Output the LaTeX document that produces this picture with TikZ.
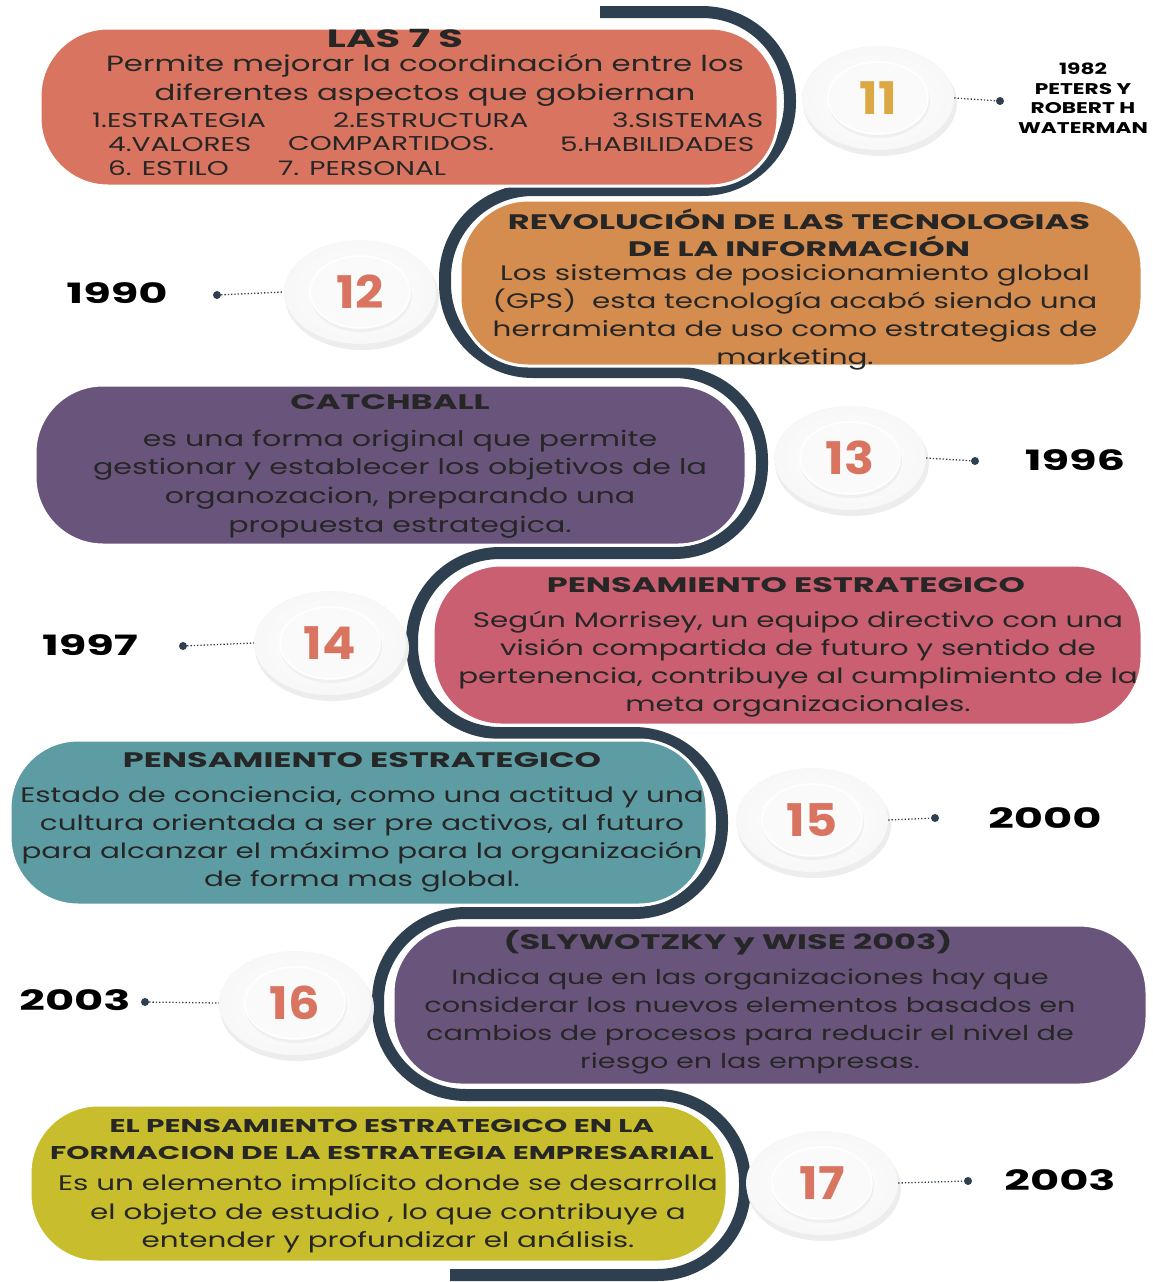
\documentclass[tikz,border=0pt]{standalone}
\usepackage{fontspec}
\setmainfont{Poppins}
\newfontfamily\ancha{Poppins}[FakeStretch=1.4]
\newfontfamily\muyancha{Poppins}[FakeStretch=1.6]
\newfontfamily\cifra{Poppins}[FakeStretch=1.1]
\usetikzlibrary{positioning}

\definecolor{linea}{HTML}{2E4050}
\definecolor{salmon}{HTML}{D87460}
\definecolor{naranja}{HTML}{D58C4F}
\definecolor{morado}{HTML}{69557B}
\definecolor{rosa}{HTML}{C95F70}
\definecolor{turquesa}{HTML}{5E9CA3}
\definecolor{oliva}{HTML}{C8BD2C}
\definecolor{oro}{HTML}{DCA843}
\definecolor{texto}{HTML}{262626}

\begin{document}
\begin{tikzpicture}[x=1pt,y=-1pt,
    caja/.style={draw=white, line width=3pt, rounded corners=68pt},
    titulo/.style={font=\muyancha\bfseries\fontsize{21}{28}\selectfont, text=texto, inner sep=0pt, align=center},
    cuerpo/.style={font=\ancha\fontsize{21}{28}\selectfont, text=texto, inner sep=0pt, align=center},
    lista/.style={font=\ancha\fontsize{20}{24}\selectfont, text=texto, inner sep=0pt, anchor=west},
    numero/.style={font=\cifra\bfseries\fontsize{45}{45}\selectfont, text=salmon, inner sep=0pt},
    anio/.style={font=\muyancha\bfseries\fontsize{28}{32}\selectfont, text=black, inner sep=0pt},
    punto/.style={circle, fill=linea, inner sep=0pt, minimum size=8pt},
    enlace/.style={linea, dotted, line width=1.3pt}]
  \useasboundingbox (0,0) rectangle (1152,1282);

  % la linea que serpentea
  \draw[linea, line width=12pt, rounded corners=88pt]
    (600,12) -- (790,12) -- (790,190) -- (445,190) -- (445,372)
    -- (762,372) -- (762,553) -- (412,553) -- (412,733)
    -- (722,733) -- (722,913) -- (378,913) -- (378,1095)
    -- (745,1095) -- (745,1275) -- (450,1275);

  % cajas
  \filldraw[caja, fill=salmon] (40,28) rectangle (778,186);
  \filldraw[caja, fill=naranja] (460,200) rectangle (1142,366);
  \filldraw[caja, fill=morado] (35,385) rectangle (746,545);
  \filldraw[caja, fill=rosa] (433,565) rectangle (1142,725);
  \filldraw[caja, fill=turquesa] (10,740) rectangle (707,905);
  \filldraw[caja, fill=morado] (393,925) rectangle (1147,1085);
  \filldraw[caja, fill=oliva] (30,1105) rectangle (727,1262);

  % platos
  \foreach \n/\px/\py in {11/878/98, 12/360/292, 13/850/458, 14/330/643,
                          15/812/820, 16/295/1003, 17/822/1183} {
    \fill[black!7] (\px+2,\py+5) ellipse [x radius=77pt, y radius=53pt];
    \shade[inner color=white, outer color=black!3] (\px,\py) ellipse [x radius=76pt, y radius=52pt];
    \fill[black!6] (\px+1,\py+3) ellipse [x radius=51pt, y radius=37pt];
    \filldraw[draw=white, line width=1.5pt, fill=black!2] (\px,\py) ellipse [x radius=50pt, y radius=36pt];
    \node[inner sep=0pt, minimum width=152pt, minimum height=104pt] (p\n) at (\px,\py) {};
  }
  \node[numero, text=oro] (n11) at (p11) {11};
  \node[numero] (n12) at (p12) {12};
  \node[numero] (n13) at (p13) {13};
  \node[numero] (n14) at (p14) {14};
  \node[numero] (n15) at (p15) {15};
  \node[numero] (n16) at (p16) {16};
  \node[numero] (n17) at (p17) {17};

  % fechas
  \node[punto] (q11) at (1000,101) {};
  \node[punto] (q12) at (217,295) {};
  \node[punto] (q13) at (975,461) {};
  \node[punto] (q14) at (183,646) {};
  \node[punto] (q15) at (935,818) {};
  \node[punto] (q16) at (145,1002) {};
  \node[punto] (q17) at (968,1181) {};
  \draw[enlace] (p11.east) -- (q11);
  \draw[enlace] (q12) -- (p12.west);
  \draw[enlace] (p13.east) -- (q13);
  \draw[enlace] (q14) -- (p14.west);
  \draw[enlace] (p15.east) -- (q15);
  \draw[enlace] (q16) -- (p16.west);
  \draw[enlace] (p17.east) -- (q17);

  \node[font=\ancha\bfseries\fontsize{15.5}{19.5}\selectfont, align=center, inner sep=0pt] (f11) at (1083,98)
    {1982\\PETERS Y\\ROBERT H\\WATERMAN};
  \node[anio] (f12) at (117,293) {1990};
  \node[anio] (f13) at (1075,460) {1996};
  \node[anio] (f14) at (90,645) {1997};
  \node[anio] (f15) at (1045,818) {2000};
  \node[anio] (f16) at (75,1000) {2003};
  \node[anio] (f17) at (1060,1180) {2003};

  % textos de las cajas
  \node[titulo, font=\muyancha\bfseries\fontsize{25}{28}\selectfont] (t1) at (395,38) {LAS 7 S};
  \node[cuerpo, font=\ancha\fontsize{22}{29}\selectfont] (d1) at (425,80)
    {Permite mejorar la coordinación entre los\\diferentes aspectos que gobiernan};
  \node[lista] (l1) at (92,120) {1.ESTRATEGIA};
  \node[lista] (l2) at (333,120) {2.ESTRUCTURA};
  \node[lista] (l3) at (612,120) {3.SISTEMAS};
  \node[lista] (l4) at (108,144) {4.VALORES};
  \node[lista] (l5) at (288,144) {COMPARTIDOS.};
  \node[lista] (l6) at (560,144) {5.HABILIDADES};
  \node[lista] (l7) at (108,168) {6. ESTILO};
  \node[lista] (l8) at (278,168) {7. PERSONAL};

  \node[titulo, font=\muyancha\bfseries\fontsize{21}{27}\selectfont] (t2) at (799,233)
    {REVOLUCIÓN DE LAS TECNOLOGIAS\\DE LA INFORMACIÓN};
  \node[cuerpo] (d2) at (795,317)
    {Los sistemas de posicionamiento global\\(GPS)\ \ esta tecnología acabó siendo una\\herramienta de uso como estrategias de\\marketing.};

  \node[titulo] (t3) at (390,402) {CATCHBALL};
  \node[cuerpo, font=\ancha\fontsize{21.5}{28.7}\selectfont] (d3) at (400,484)
    {es una forma original que permite\\gestionar y establecer los objetivos de la\\organozacion, preparando una\\propuesta estrategica.};

  \node[titulo] (t4) at (786,585) {PENSAMIENTO ESTRATEGICO};
  \node[cuerpo] (d4) at (798,664)
    {Según Morrisey, un equipo directivo con una\\visión compartida de futuro y sentido de\\pertenencia, contribuye al cumplimiento de la\\meta organizacionales.};

  \node[titulo] (t5) at (362,760) {PENSAMIENTO ESTRATEGICO};
  \node[cuerpo] (d5) at (362,839)
    {Estado de conciencia, como una actitud y una\\cultura orientada a ser pre activos, al futuro\\para alcanzar el máximo para la organización\\de forma mas global.};

  \node[titulo] (t6) at (728,943) {(SLYWOTZKY y WISE 2003)};
  \node[cuerpo, font=\ancha\fontsize{20.5}{28}\selectfont] (d6) at (750,1021)
    {Indica que en las organizaciones hay que\\considerar los nuevos elementos basados en\\cambios de procesos para reducir el nivel de\\riesgo en las empresas.};

  \node[titulo, font=\muyancha\bfseries\fontsize{18.5}{27}\selectfont] (t7) at (382,1139)
    {EL PENSAMIENTO ESTRATEGICO EN LA\\FORMACION DE LA ESTRATEGIA EMPRESARIAL};
  \node[cuerpo, font=\ancha\fontsize{21}{28.5}\selectfont] (d7) at (388,1214)
    {Es un elemento implícito donde se desarrolla\\el objeto de estudio , lo que contribuye a\\entender y profundizar el análisis.};
\end{tikzpicture}
\end{document}
